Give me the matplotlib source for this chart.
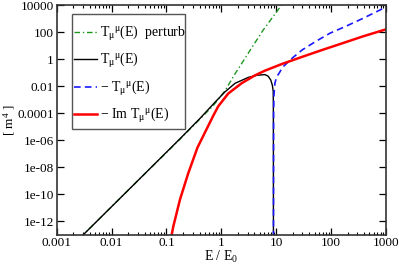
import numpy as np
import matplotlib
matplotlib.use("Agg")
import matplotlib.pyplot as plt
from matplotlib.patches import Rectangle
from matplotlib.ticker import FixedLocator, FixedFormatter, LogLocator, NullFormatter, NullLocator

plt.rcParams['font.family'] = ['Liberation Serif', 'DejaVu Serif']
plt.rcParams['mathtext.fontset'] = 'custom'
plt.rcParams['mathtext.rm'] = 'Liberation Serif'
plt.rcParams['mathtext.it'] = 'Liberation Serif'
plt.rcParams['mathtext.default'] = 'regular'

# ---- data (log10 of E/E0 and log10 of value) ----
green_logE = [-2.9, -2.515, -1.661, -0.754, -0.386, -0.148, 0.066, 0.248, 0.43, 0.521, 0.763, 1.098, 1.15]
green_logY = [-14.5, -13.0, -9.56, -5.93, -4.42, -3.45, -2.35, -1.10, 0.05, 0.63, 2.15, 4.0, 4.3]

black_logE = [-2.76, -2.515, -1.661, -0.754, -0.386, -0.117, 0.066, 0.248, 0.49, 0.65, 0.794,
              0.854, 0.90, 0.93, 0.945, 0.948, 0.949]
black_logY = [-14.0, -13.0, -9.56, -5.90, -4.38, -3.20, -2.43, -1.80, -1.36, -1.20, -1.15,
              -1.27, -1.55, -1.95, -2.40, -4.0, -14.0]

blue_logE = [0.950, 0.952, 0.960, 0.976, 1.007, 1.036, 1.107, 1.128, 1.289, 1.471, 1.714,
             1.978, 2.282, 2.585, 2.89, 3.0]
blue_logY = [-14.0, -4.0, -2.6, -1.79, -1.30, -1.15, -0.68, -0.56, 0.06, 0.67, 1.29,
             1.91, 2.45, 3.02, 3.63, 3.87]

red_logE = [-0.92, -0.905, -0.876, -0.754, -0.603, -0.435, -0.148, -0.057, 0.126, 0.37, 0.612,
            0.794, 1.107, 1.471, 1.836, 2.2, 2.567, 3.0]
red_logY = [-13.4, -13.0, -12.4, -10.4, -8.45, -6.55, -4.20, -3.50, -2.55, -1.79, -1.21,
            -0.86, -0.36, 0.16, 0.67, 1.16, 1.66, 2.20]

labels = [r"T$_{μ}{}^{μ}$(E)  perturb", r"T$_{μ}{}^{μ}$(E)", r"− T$_{μ}{}^{μ}$(E)", r"− Im T$_{μ}{}^{μ}$(E)"]

x_ticks = [1e-3, 1e-2, 1e-1, 1, 10, 100, 1000]
x_ticklabels = ["0.001", "0.01", "0.1", "1", "10", "100", "1000"]
y_ticks = [1e-12, 1e-10, 1e-8, 1e-6, 1e-4, 1e-2, 1, 100, 1e4]
y_ticklabels = ["1e-12", "1e-10", "1e-08", "1e-06", "0.0001", "0.01", "1", "100", "10000"]

def tv(a):
    return np.power(10.0, np.asarray(a, dtype=float))

W, H = 399, 266
L, R, B, T = 56.7, 386.0, 234.7, 5.0
fig = plt.figure(figsize=(W/100, H/100), dpi=100)
ax = fig.add_axes([L/W, 1 - B/H, (R - L)/W, (B - T)/H])

def ax_x(px):
    return (px - L) / (R - L)

def ax_y(py):
    return (B - py) / (B - T)

ax.plot(tv(green_logE), tv(green_logY), color='#1f961f', lw=1.0,
        linestyle=(0, (4, 2, 1, 2)), label=labels[0])
ax.plot(tv(black_logE), tv(black_logY), color='black', lw=1.0, label=labels[1])
ax.plot(tv(blue_logE), tv(blue_logY), color='#1a1aff', lw=1.2,
        linestyle=(0, (4, 2.5)), label=labels[2])
ax.plot(tv(red_logE), tv(red_logY), color='#ff0000', lw=1.8, label=labels[3])

ax.set_xscale('log')
ax.set_yscale('log')
ax.set_xlim(1e-3, 1e3)
ax.set_ylim(1e-13, 1e4)

ax.xaxis.set_major_locator(FixedLocator(x_ticks))
ax.xaxis.set_major_formatter(FixedFormatter(x_ticklabels))
ax.xaxis.set_minor_locator(LogLocator(base=10, subs=np.arange(2, 10)))
ax.xaxis.set_minor_formatter(NullFormatter())
ax.yaxis.set_major_locator(FixedLocator(y_ticks))
ax.yaxis.set_major_formatter(FixedFormatter(y_ticklabels))
ax.yaxis.set_minor_locator(NullLocator())

ax.tick_params(which='both', direction='in', top=True, right=True, labelsize=9.5, colors='black')
ax.tick_params(which='major', length=5, width=0.9, pad=2)
ax.tick_params(which='minor', length=2.5, width=0.8)
for s in ax.spines.values():
    s.set_linewidth(1.2)
    s.set_color('#333333')

ax.set_xlabel(r"E / E$_0$", fontsize=10)
ax.xaxis.set_label_coords(0.5, ax_y(249))
ax.set_ylabel(r"[ m$^4$ ]", fontsize=9.5)
ax.yaxis.set_label_coords(ax_x(17), 0.5)

# legend box
ax.add_patch(Rectangle((ax_x(71.7), ax_y(128.5)), ax_x(185) - ax_x(71.7), ax_y(14) - ax_y(128.5),
                       transform=ax.transAxes, facecolor='white', edgecolor='#555555',
                       lw=1.0, zorder=4))
leg = ax.legend(loc='upper left', bbox_to_anchor=(ax_x(74), ax_y(23.5)), fontsize=10,
                frameon=False, handlelength=1.65, handletextpad=0.2, labelspacing=0.62,
                borderpad=0.0, borderaxespad=0.0)
leg.set_zorder(5)

fig.savefig("out.png", dpi=100)
